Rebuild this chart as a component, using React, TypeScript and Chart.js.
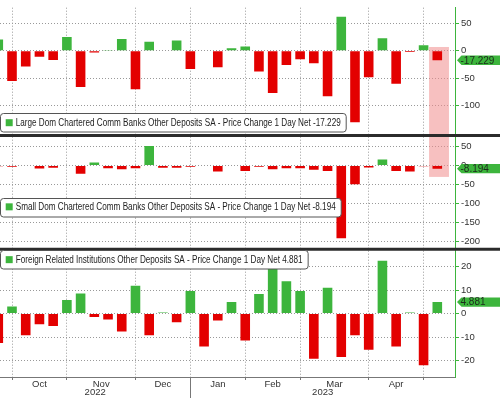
import React, { useEffect, useRef } from 'react';
import { Chart, registerables } from 'chart.js';

Chart.register(...registerables);

// ---- data ----
const weeks = [
  '2022-09-28', '2022-10-05', '2022-10-12', '2022-10-19', '2022-10-26',
  '2022-11-02', '2022-11-09', '2022-11-16', '2022-11-23', '2022-11-30',
  '2022-12-07', '2022-12-14', '2022-12-21', '2022-12-28',
  '2023-01-04', '2023-01-11', '2023-01-18', '2023-01-25',
  '2023-02-01', '2023-02-08', '2023-02-15', '2023-02-22',
  '2023-03-01', '2023-03-08', '2023-03-15', '2023-03-22', '2023-03-29',
  '2023-04-05', '2023-04-12', '2023-04-19', '2023-04-26',
  '2023-05-03', '2023-05-10',
];

const monthNames = ['Jan', 'Feb', 'Mar', 'Apr', 'May', 'Jun', 'Jul', 'Aug', 'Sep', 'Oct', 'Nov', 'Dec'];

const largeBanks = [
  20.8, -55, -28.6, -10.7, -16.7, 25, -66, -3, 0.8, 21.4, -70, 16.7, 1, 19,
  -33, -1, -30, 4.8, 7.7, -37.5, -77, -26, -15.5, -22.6, -83, 62, -130, -48,
  23, -60, -2, 10, -17.229,
];

const smallBanks = [
  -2, -3, -1, -7.7, -6, -1, -21.5, 8, -7, -9.5, -7, 51.5, -6, -6, -3.5, -1,
  -16, -1, -14.6, -3.5, -10, -7, -7, -11, -14.6, -191.5, -49, -5, 16, -14.6,
  -16, -2, -8.194,
];

const foreignInst = [
  -12.5, 3, -9.2, -4.6, -5.3, 5.8, 8.5, -1.5, -2.5, -7.6, 11.8, -9.2, 0.4,
  -3.75, 9.6, -14, -3, 4.9, -11.5, 8.3, 19.5, 13.75, 9.6, -19.2, 11, -18.5,
  -9.2, -15.4, 22.5, -14, 0.5, -22, 4.881,
];

const yTicksLarge = [50, 0, -50, -100];
const yTicksSmall = [50, 0, -50, -100, -150, -200];
const yTicksForeign = [20, 10, 0, -10, -20];

const seriesNames = [
  'Large Dom Chartered Comm Banks Other Deposits SA - Price Change 1 Day Net',
  'Small Dom Chartered Comm Banks Other Deposits SA - Price Change 1 Day Net',
  'Foreign Related Institutions Other Deposits SA - Price Change 1 Day Net',
];

// highlight: from this value on the large-bank axis down to this value on the small-bank axis
const highlightTop = 7;
const highlightBottom = -30;

// ---- derived (month boundaries / labels) ----
const boundaries: number[] = [];
for (let i = 1; i < weeks.length; i++) {
  if (weeks[i].slice(0, 7) !== weeks[i - 1].slice(0, 7)) boundaries.push(i);
}
const monthMids: { v: number; label: string }[] = [];
for (let k = 0; k < boundaries.length - 1; k++) {
  const m = parseInt(weeks[boundaries[k]].slice(5, 7), 10) - 1;
  monthMids.push({ v: (boundaries[k] + boundaries[k + 1]) / 2, label: monthNames[m] });
}
const yearBoundaries: number[] = boundaries.filter((i) => weeks[i].slice(0, 4) !== weeks[i - 1].slice(0, 4));

const GREEN = '#3db53d';
const RED = '#e30000';
const FONT = '"Liberation Sans", Arial, sans-serif';
const GRID = '#999999';

const panelIds = ['yLarge', 'ySmall', 'yForeign'];
const panelData = [largeBanks, smallBanks, foreignInst];
const legendCenters = [115, 71.3, 10.5];

const overlayPlugin = {
  id: 'overlay',
  beforeDatasetsDraw(chart: any) {
    const { ctx, scales } = chart;
    const last = weeks.length - 1;
    const x0 = scales.x.getPixelForValue(last - 0.6);
    const x1 = scales.x.getPixelForValue(last + 0.85);
    const y0 = scales.yLarge.getPixelForValue(highlightTop);
    const y1 = scales.ySmall.getPixelForValue(highlightBottom);
    ctx.save();
    ctx.fillStyle = 'rgba(240,140,140,0.55)';
    ctx.fillRect(x0, y0, x1 - x0, y1 - y0);
    ctx.restore();
  },
  afterDraw(chart: any) {
    const { ctx, scales, chartArea } = chart;
    ctx.save();
    // separators
    ctx.strokeStyle = '#2b2b2b';
    ctx.lineWidth = 3;
    [scales.yLarge.bottom, scales.ySmall.bottom].forEach((y: number) => {
      ctx.beginPath();
      ctx.moveTo(0, y);
      ctx.lineTo(chart.width, y);
      ctx.stroke();
    });

    // legends
    ctx.font = '10.5px ' + FONT;
    const baseW = ctx.measureText(seriesNames[0] + ' ' + String(largeBanks[largeBanks.length - 1])).width;
    const sx = 325 / baseW;
    panelIds.forEach((id, p) => {
      const s = scales[id];
      const cy = s.top + legendCenters[p];
      const data = panelData[p];
      const text = seriesNames[p] + ' ' + String(data[data.length - 1]);
      ctx.font = '10.5px ' + FONT;
      const tw = ctx.measureText(text).width * sx;
      const bx = 0.5, bh = 18.5, bw = 15.7 + tw + 5;
      ctx.beginPath();
      ctx.roundRect(bx, Math.round(cy - bh / 2) + 0.5, bw, bh, 3);
      ctx.fillStyle = '#ffffff';
      ctx.fill();
      ctx.strokeStyle = '#555';
      ctx.lineWidth = 1;
      ctx.stroke();
      ctx.fillStyle = GREEN;
      ctx.fillRect(5.7, cy - 3.5, 7, 7);
      ctx.save();
      ctx.translate(15.7, cy + 0.5);
      ctx.scale(sx, 1);
      ctx.fillStyle = '#222';
      ctx.textBaseline = 'middle';
      ctx.textAlign = 'left';
      ctx.fillText(text, 0, 0);
      ctx.restore();
    });

    // value tags
    panelIds.forEach((id, p) => {
      const s = scales[id];
      const data = panelData[p];
      const v = data[data.length - 1];
      const y = s.getPixelForValue(v);
      const left = chartArea.right + 2;
      const h = 4.7;
      ctx.beginPath();
      ctx.moveTo(left, y);
      ctx.lineTo(left + 4.5, y - h);
      ctx.lineTo(chart.width, y - h);
      ctx.lineTo(chart.width, y + h);
      ctx.lineTo(left + 4.5, y + h);
      ctx.closePath();
      ctx.fillStyle = GREEN;
      ctx.fill();
      ctx.fillStyle = '#1d2a1d';
      ctx.font = '10px ' + FONT;
      ctx.textBaseline = 'middle';
      ctx.textAlign = 'left';
      ctx.fillText(String(v), left + 3.5, y + 0.5);
    });

    // year labels + long year tick
    const xs = scales.x;
    const edges = [chartArea.left, ...yearBoundaries.map((i) => xs.getPixelForValue(i)), chartArea.right];
    const years = [weeks[0].slice(0, 4), ...yearBoundaries.map((i) => weeks[i].slice(0, 4))];
    ctx.fillStyle = '#333';
    ctx.font = '9.5px ' + FONT;
    ctx.textAlign = 'center';
    ctx.textBaseline = 'middle';
    years.forEach((yr, k) => {
      ctx.fillText(yr, (edges[k] + edges[k + 1]) / 2, 392.5);
    });
    ctx.strokeStyle = '#777';
    ctx.lineWidth = 1;
    yearBoundaries.forEach((i) => {
      const x = Math.round(xs.getPixelForValue(i)) + 0.5;
      ctx.beginPath();
      ctx.moveTo(x, chartArea.bottom);
      ctx.lineTo(x, chart.height);
      ctx.stroke();
    });
    ctx.restore();
  },
};

function yScale(ticks: number[], min: number, max: number, weight: number) {
  return {
    type: 'linear',
    position: 'right',
    stack: 'panels',
    stackWeight: weight,
    min,
    max,
    afterBuildTicks: (s: any) => {
      s.ticks = ticks.map((v) => ({ value: v }));
    },
    afterFit: (s: any) => {
      s.width = 45;
    },
    grid: {
      color: GRID,
      lineWidth: 1,
      tickColor: GREEN,
      tickLength: 4,
      tickBorderDash: [],
    },
    border: { display: true, color: GREEN, width: 1, dash: [1, 2] },
    ticks: {
      autoSkip: false,
      font: { size: 9.5, family: FONT },
      color: '#333',
      padding: 2,
    },
  };
}

function makeDataset(data: number[], axis: string, name: string) {
  return {
    label: name,
    data: data.map((v, i) => ({ x: i, y: v })),
    yAxisID: axis,
    backgroundColor: data.map((v) => (v >= 0 ? GREEN : RED)),
    borderWidth: 0,
    grouped: false,
    barPercentage: 0.7,
    categoryPercentage: 1,
  };
}

export default function App() {
  const ref = useRef<HTMLCanvasElement | null>(null);
  useEffect(() => {
    if (!ref.current) return;
    const isBoundary = (v: number) => boundaries.includes(v);
    const chart = new Chart(ref.current, {
      type: 'bar',
      data: {
        datasets: [
          makeDataset(largeBanks, 'yLarge', seriesNames[0]),
          makeDataset(smallBanks, 'ySmall', seriesNames[1]),
          makeDataset(foreignInst, 'yForeign', seriesNames[2]),
        ] as any,
      },
      options: {
        animation: false,
        responsive: false,
        events: [],
        layout: { padding: 0, autoPadding: false },
        plugins: { legend: { display: false }, tooltip: { enabled: false } },
        scales: {
          x: {
            type: 'linear',
            position: 'bottom',
            offset: false,
            min: 0.125,
            max: 33.29,
            afterBuildTicks: (s: any) => {
              const vals = [...boundaries, ...monthMids.map((m) => m.v)].sort((a, b) => a - b);
              s.ticks = vals.map((v) => ({ value: v }));
            },
            afterFit: (s: any) => {
              s.height = 21;
            },
            grid: {
              offset: false,
              color: (c: any) => (c.tick && isBoundary(c.tick.value) ? GRID : 'rgba(0,0,0,0)'),
              tickColor: (c: any) => (c.tick && isBoundary(c.tick.value) ? '#777' : 'rgba(0,0,0,0)'),
              tickLength: 3,
              tickBorderDash: [],
              lineWidth: 1,
            },
            border: { display: true, color: '#777', width: 1, dash: [1, 2] },
            ticks: {
              autoSkip: false,
              maxRotation: 0,
              padding: -1,
              font: { size: 9.5, family: FONT },
              color: '#333',
              callback: (v: any) => {
                const m = monthMids.find((mm) => mm.v === v);
                return m ? m.label : '';
              },
            },
          },
          yLarge: yScale(yTicksLarge, -154.4, 78.6, 130.5),
          ySmall: yScale(yTicksSmall, -220.1, 78.9, 116),
          yForeign: yScale(yTicksForeign, -27, 27.4, 130.5),
        } as any,
      },
      plugins: [overlayPlugin],
    });
    return () => chart.destroy();
  }, []);

  return (
    <div style={{ position: 'absolute', left: 0, top: 0, width: 500, height: 398, background: '#fff' }}>
      <canvas ref={ref} width={500} height={398} style={{ display: 'block' }} />
    </div>
  );
}
